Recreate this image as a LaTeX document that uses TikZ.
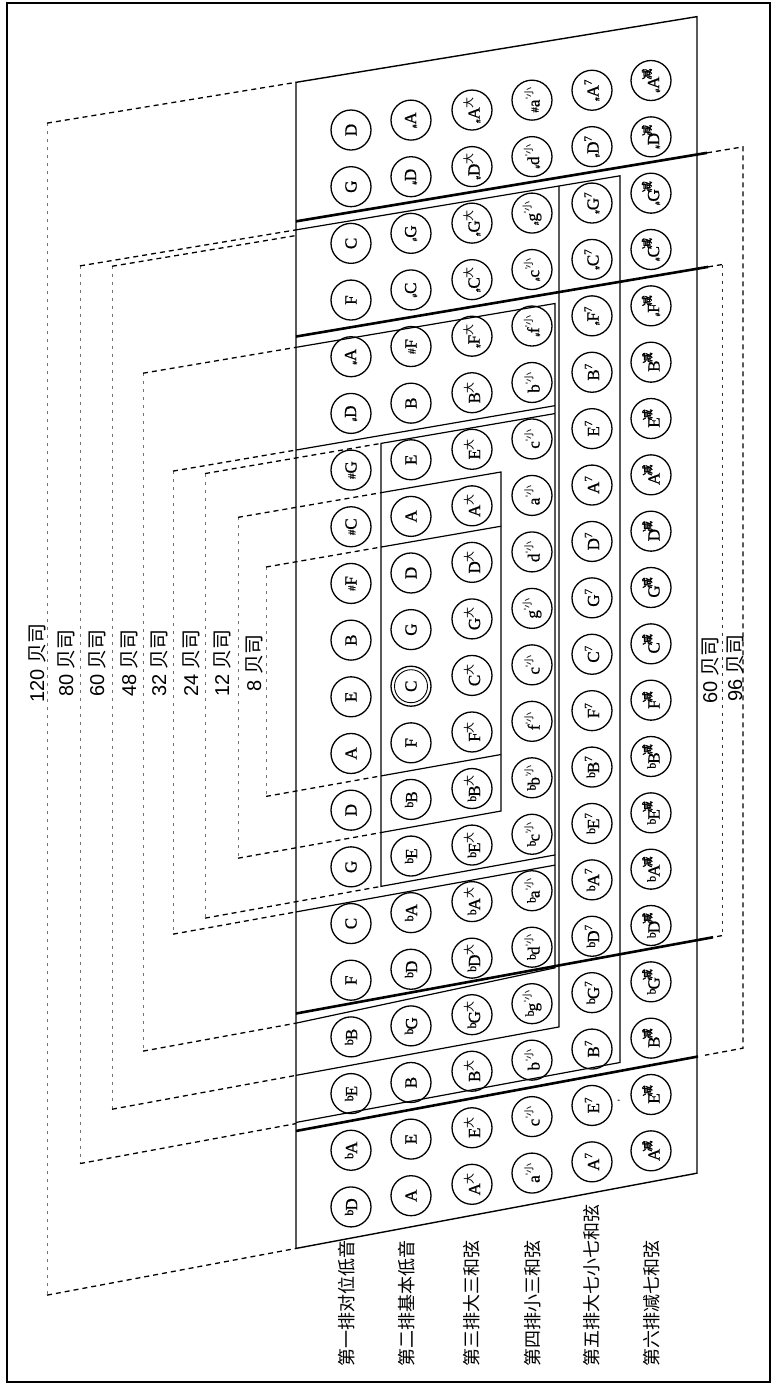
\documentclass[tikz,border=0pt]{standalone}
\usepackage{fontspec}
\setmainfont{Liberation Serif}
\newfontfamily\btnfont[FakeBold=0.8]{Liberation Serif}
\newfontfamily\cjk{Noto Sans CJK SC}
\newfontfamily\cjkb[FakeBold=2.5]{Noto Sans CJK SC}
\newfontfamily\arial{Liberation Sans}
\newcommand\mFl[1]{\raisebox{4pt}{\fontsize{12}{12}\selectfont b}\kern-1pt#1}
\newcommand\mSh[1]{\raisebox{1pt}{\fontsize{11}{11}\selectfont\#}#1}
\newcommand\mSf[1]{\raisebox{-1pt}{\fontsize{7}{7}\selectfont\#}#1}
\newcommand\mDa{\kern-1pt\raisebox{7pt}{\fontsize{11}{11}\selectfont\cjk 大}}
\newcommand\mXi{\raisebox{7pt}{\fontsize{10}{10}\selectfont\arial '\cjk 小}}
\newcommand\mQi{\raisebox{7pt}{\fontsize{11}{11}\selectfont 7}}
\newcommand\mJi{\kern-3pt\raisebox{8pt}{\fontsize{11}{11}\selectfont\cjkb 减}}
\newcommand\rowbtns[3]{\foreach \lab [count=\k from 0] in {#3}{\node[btn] (b#1-\k) at (#2,{Y(\k,#2)}) {\lab};}}
\begin{document}
\begin{tikzpicture}[x=1pt,y=-1pt,
  declare function={Y(\a,\b)=130+56.68*\a-(0.165+0.022*\a/19)*(\b-351);},
  btn/.style={circle,draw,line width=1.3pt,minimum size=40pt,inner sep=0pt,rotate=90,font=\btnfont\fontsize{17}{17}\selectfont},
  dsh/.style={line width=1.3pt,dash pattern=on 5pt off 4pt},
  fnt/.style={line width=0.8pt,black!55,dash pattern=on 3pt off 5pt},
  thk/.style={line width=2.6pt},
  bxl/.style={line width=1.2pt},
  szl/.style={rotate=90,inner sep=0pt,font=\fontsize{20}{20}\selectfont},
  rowl/.style={rotate=90,inner sep=0pt,anchor=west,font=\cjk\fontsize{18}{18}\selectfont}]
\useasboundingbox (0,0) rectangle (775,1385);
\draw[line width=2pt] (7,3) rectangle (770,1382);
% panel
\coordinate (pTL) at (296,{Y(-1,296)});
\coordinate (pTR) at (697,{Y(-1,697)});
\coordinate (pBR) at (697,{Y(19.55,697)});
\coordinate (pBL) at (296,{Y(19.55,296)});
\draw[line width=1.4pt] (pTL) -- (pTR) -- (pBR) -- (pBL) -- cycle;
% buttons
\rowbtns{1}{351}{D,G,C,F,\mSf{A},\mSf{D},\mSh{G},\mSh{C},\mSh{F},B,E,A,D,G,C,F,\mFl{B},\mFl{E},\mFl{A},\mFl{D}}
\rowbtns{2}{411}{\mSf{A},\mSf{D},\mSf{G},\mSf{C},\mSh{F},B,E,A,D,G,C,F,\mFl{B},\mFl{E},\mFl{A},\mFl{D},\mFl{G},B,E,A}
\rowbtns{3}{472}{\mSf{A}\mDa,\mSf{D}\mDa,\mSf{G}\mDa,\mSf{C}\mDa,\mSf{F}\mDa,B\mDa,E\mDa,A\mDa,D\mDa,G\mDa,C\mDa,F\mDa,\mFl{B}\mDa,\mFl{E}\mDa,\mFl{A}\mDa,\mFl{D}\mDa,\mFl{G}\mDa,B\mDa,E\mDa,A\mDa}
\rowbtns{4}{532}{\mSh{a}\mXi,\mSf{d}\mXi,\mSf{g}\mXi,\mSf{c}\mXi,\mSf{f}\mXi,b\mXi,c\mXi,a\mXi,d\mXi,g\mXi,c\mXi,f\mXi,\mFl{b}\mXi,\mFl{c}\mXi,\mFl{a}\mXi,\mFl{d}\mXi,\mFl{g}\mXi,b\mXi,c\mXi,a\mXi}
\rowbtns{5}{592}{\mSf{A}\mQi,\mSf{D}\mQi,\mSf{G}\mQi,\mSf{C}\mQi,\mSf{F}\mQi,B\mQi,E\mQi,A\mQi,D\mQi,G\mQi,C\mQi,F\mQi,\mFl{B}\mQi,\mFl{E}\mQi,\mFl{A}\mQi,\mFl{D}\mQi,\mFl{G}\mQi,B\mQi,E\mQi,A\mQi}
\rowbtns{6}{651}{\mSf{A}\mJi,\mSf{D}\mJi,\mSf{G}\mJi,\mSf{C}\mJi,\mSf{F}\mJi,B\mJi,E\mJi,A\mJi,D\mJi,G\mJi,C\mJi,F\mJi,\mFl{B}\mJi,\mFl{E}\mJi,\mFl{A}\mJi,\mFl{D}\mJi,\mFl{G}\mJi,B\mJi,E\mJi,A\mJi}
\node[circle,draw,line width=0.9pt,minimum size=33pt,inner sep=0pt] (dc) at (b2-10) {};
\node[rotate=90,font=\fontsize{10}{10}\selectfont] (stray) at (621,1101) {'};
% thick boundary lines
\draw[thk] (296,{Y(1.45,296)}) -- (707,{Y(1.45,707)});
\draw[thk] (296,{Y(3.48,296)}) -- (708,{Y(3.48,708)});
\draw[thk] (296,{Y(15.41,296)}) -- (713,{Y(15.41,713)});
\draw[thk] (296,{Y(17.48,296)}) -- (698,{Y(17.48,698)});
% inner boxes
\draw[bxl] (296,{Y(1.6,296)}) -- (620,{Y(1.6,620)}) -- (620,{Y(17.33,620)}) -- (296,{Y(17.33,296)});
\draw[bxl] (559,{Y(1.6,559)}) -- (559,{Y(16.5,559)}) -- (296,{Y(16.5,296)});
\draw[bxl] (296,{Y(3.67,296)}) -- (555,{Y(3.67,555)}) -- (555,{Y(15.44,555)}) -- (296,{Y(15.58,296)});
\draw[bxl] (296,{Y(5.48,296)}) -- (555,{Y(5.48,555)});
\draw[bxl] (296,{Y(13.62,296)}) -- (555,{Y(13.62,555)});
\draw[bxl] (555,{Y(5.62,555)}) -- (381,{Y(5.62,381)}) -- (381,{Y(13.44,381)}) -- (555,{Y(13.44,555)});
\draw[bxl] (381,{Y(6.49,381)}) -- (501,{Y(6.49,501)}) -- (501,{Y(12.49,501)}) -- (381,{Y(12.49,381)});
\draw[bxl] (381,{Y(7.45,381)}) -- (501,{Y(7.45,501)});
\draw[bxl] (381,{Y(11.49,381)}) -- (501,{Y(11.49,501)});
% left size indicators
\foreach \nm/\xv/\ka/\kb/\xe/\lx in {120/47/-1/19.55/296/37, 80/80/1.6/17.35/296/66, 60/112/1.7/16.5/296/97, 48/143/3.67/15.58/296/129, 32/173/5.48/13.62/296/159, 24/205/5.62/13.44/381/191, 12/238/6.49/12.49/381/222, 8/266/7.45/11.49/381/254}{
  \coordinate (t\nm) at (\xv,{Y(\ka,\xv)});
  \coordinate (u\nm) at (\xe,{Y(\ka,\xe)});
  \coordinate (s\nm) at (\xv,{Y(\kb,\xv)});
  \coordinate (v\nm) at (\xe,{Y(\kb,\xe)});
  \draw[fnt] (t\nm) -- (s\nm);
  \draw[dsh] (t\nm) -- (u\nm);
  \draw[dsh] (s\nm) -- (v\nm);
  \node[szl] (L\nm) at (\lx,663) {{\arial\nm\ }\cjk 贝司};
}
% right size indicators
\coordinate (r1) at (707,{Y(1.45,707)});
\coordinate (r2) at (743,{Y(1.45,743)});
\coordinate (r3) at (743,{Y(17.48,743)});
\coordinate (r4) at (705,{Y(17.48,705)});
\draw[dsh] (r1) -- (r2) -- (r3) -- (r4);
\coordinate (q1) at (708,{Y(3.48,708)});
\coordinate (q2) at (722,{Y(3.48,722)});
\coordinate (q3) at (722,{Y(15.41,722)});
\coordinate (q4) at (713,{Y(15.41,713)});
\draw[dsh] (q1) -- (q2);
\draw[fnt,black!80] (q2) -- (q3);
\draw[dsh] (q3) -- (q4);
\node[szl] (R60) at (710,670) {{\arial 60\ }\cjk 贝司};
\node[szl] (R96) at (735,668) {{\arial 96\ }\cjk 贝司};
% row labels
\node[rowl] (row1) at (347,1367) {第一排对位低音};
\node[rowl] (row2) at (407,1367) {第二排基本低音};
\node[rowl] (row3) at (472,1367) {第三排大三和弦};
\node[rowl] (row4) at (533,1367) {第四排小三和弦};
\node[rowl] (row5) at (592,1367) {第五排大七小七和弦};
\node[rowl] (row6) at (652,1367) {第六排减七和弦};
\end{tikzpicture}
\end{document}
